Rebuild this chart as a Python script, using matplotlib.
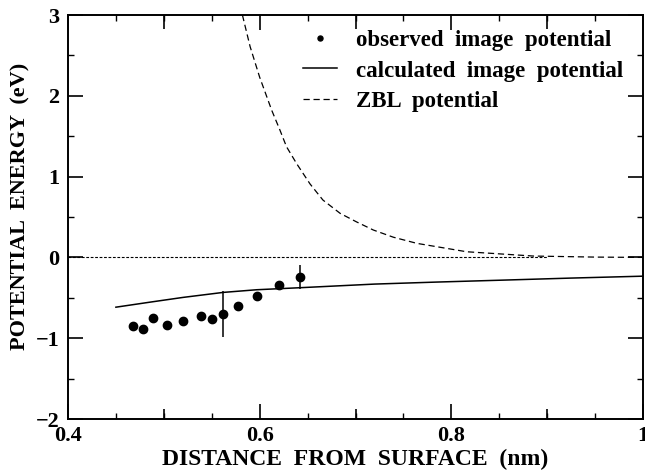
import matplotlib.pyplot as plt
from matplotlib.ticker import MultipleLocator, FixedLocator, NullFormatter, FuncFormatter

# observed image potential (nm, eV)
obs_z = [0.4675, 0.478, 0.489, 0.5033, 0.5203, 0.5388, 0.5506, 0.5617,
         0.5777, 0.5975, 0.6199, 0.6424]
obs_v = [-0.853, -0.882, -0.75, -0.833, -0.79, -0.72, -0.759, -0.70,
         -0.60, -0.474, -0.338, -0.246]

# error bars on two of the points
err_z = [0.5617, 0.6424]
err_v = [-0.70, -0.246]
err_dv = [0.28, 0.15]

# calculated image potential
calc_z = [0.45, 0.486, 0.52, 0.562, 0.597, 0.642, 0.72, 0.785, 0.854, 0.924, 1.0]
calc_v = [-0.616, -0.553, -0.495, -0.433, -0.40, -0.375, -0.33, -0.305,
          -0.281, -0.256, -0.232]

# ZBL potential
zbl_z = [0.582, 0.590, 0.600, 0.6126, 0.621, 0.628, 0.6386, 0.6525, 0.666,
         0.684, 0.701, 0.7186, 0.7395, 0.764, 0.816, 0.8856, 0.95, 1.0]
zbl_v = [3.0, 2.61, 2.23, 1.82, 1.58, 1.37, 1.16, 0.91, 0.71,
         0.545, 0.44, 0.339, 0.25, 0.174, 0.07, 0.017, 0.004, 0.0]

plt.rcParams["font.family"] = ["Liberation Serif", "DejaVu Serif"]
plt.rcParams["font.weight"] = "bold"

fig = plt.figure(figsize=(6.45, 4.70), dpi=100)
ax = fig.add_axes([0.1054, 0.1085, 0.8916, 0.8595])

ax.plot([0.4, 0.9], [0, 0], color="black", lw=0.8, dashes=(2.5, 1.5))
ax.plot(zbl_z, zbl_v, color="black", lw=0.9, dashes=(5, 3),
        label="ZBL  potential")
ax.plot(calc_z, calc_v, color="black", lw=1.1,
        label="calculated  image  potential")
ax.errorbar(err_z, err_v, yerr=err_dv, fmt="none", ecolor="black",
            elinewidth=1.1, capsize=0)
ax.plot(obs_z, obs_v, "o", color="black", ms=6,
        label="observed  image  potential")

ax.set_xlim(0.4, 1.0)
ax.set_ylim(-2, 3)

# x ticks: labels every 0.2, ticks every 0.1, minor every 0.05
ax.xaxis.set_major_locator(MultipleLocator(0.2))
ax.xaxis.set_minor_locator(MultipleLocator(0.05))
ax.xaxis.set_major_formatter(FuncFormatter(lambda v, p: "1" if abs(v - 1) < 1e-6 else f"{v:.1f}"))
ax.yaxis.set_major_locator(MultipleLocator(1))
ax.yaxis.set_minor_locator(MultipleLocator(0.5))
ax.yaxis.set_major_formatter(FuncFormatter(lambda v, p: f"{v:.0f}".replace("-", "\u2212")))

ax.tick_params(which="major", direction="in", length=11, width=1.2,
               top=True, right=True, labelsize=16, pad=6)
ax.tick_params(which="minor", direction="in", length=4, width=1.0,
               top=True, right=True)
ax.tick_params(axis="x", which="major", pad=5)

# mid-length ticks at the odd tenths
for loc in ("bottom", "top"):
    sec = ax.secondary_xaxis(loc)
    sec.xaxis.set_major_locator(FixedLocator([0.5, 0.7, 0.9]))
    sec.xaxis.set_major_formatter(NullFormatter())
    sec.tick_params(direction="in", length=7 if loc == "bottom" else 10,
                    width=1.2)
    sec.spines[loc].set_visible(False)

for sp in ax.spines.values():
    sp.set_linewidth(1.4)

ax.set_xlabel("DISTANCE  FROM  SURFACE  (nm)", fontsize=17,
              fontweight="bold", labelpad=2)
ax.set_ylabel("POTENTIAL  ENERGY  (eV)", fontsize=16, fontweight="bold")
ax.yaxis.set_label_coords(-0.066, 0.527)

handles, labels = ax.get_legend_handles_labels()
order = [2, 1, 0]
ax.legend([handles[i] for i in order], [labels[i] for i in order],
          loc="upper right", frameon=False, prop={"size": 16.5, "weight": "bold"},
          markerscale=0.6, handlelength=1.5, handletextpad=0.8,
          labelspacing=0.4, borderaxespad=0, bbox_to_anchor=(0.981, 0.985))

fig.savefig("out.png", dpi=100)
